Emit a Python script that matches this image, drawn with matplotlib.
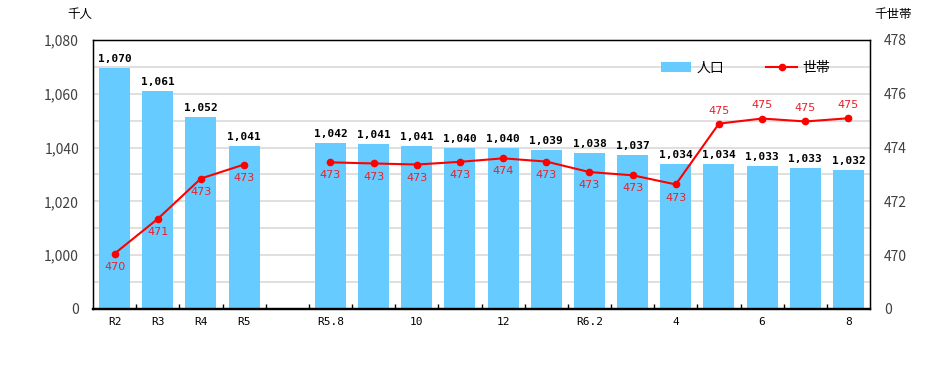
import numpy as np
import matplotlib
matplotlib.use("Agg")
import matplotlib.pyplot as plt
from matplotlib.lines import Line2D
from matplotlib.patches import Patch

plt.rcParams['font.family'] = ['Noto Sans CJK JP', 'DejaVu Sans']

# ------------------------
# data
# ------------------------
categories = ['R2', 'R3', 'R4', 'R5', '', 'R5.8', '9', '10', '11', '12', '1',
              'R6.2', '3', '4', '5', '6', '7', '8']
tick_labels = ['R2', 'R3', 'R4', 'R5', '', 'R5.8', '', '10', '', '12', '',
               'R6.2', '', '4', '', '6', '', '8']
population = [1069.6, 1061.2, 1051.3, 1040.6, np.nan, 1041.8, 1041.2, 1040.6,
              1040.0, 1039.9, 1039.1, 1038.1, 1037.2, 1034.0, 1034.0, 1033.2,
              1032.4, 1031.8]
population_labels = ['1,070', '1,061', '1,052', '1,041', '', '1,042', '1,041',
                     '1,041', '1,040', '1,040', '1,039', '1,038', '1,037',
                     '1,034', '1,034', '1,033', '1,033', '1,032']
households = [470.06, 471.35, 472.85, 473.37, np.nan, 473.45, 473.41, 473.37,
              473.47, 473.6, 473.48, 473.09, 472.97, 472.63, 474.89, 475.08,
              474.97, 475.09]

left_ticks = [980, 1000, 1020, 1040, 1060, 1080]
left_ticklabels = ['0', '1,000', '1,020', '1,040', '1,060', '1,080']
right_ticks = [468, 470, 472, 474, 476, 478]
right_ticklabels = ['0', '470', '472', '474', '476', '478']

bar_color = '#66CCFF'
line_color = '#FF0000'
mono = ['DejaVu Sans Mono']

# ------------------------
# figure
# ------------------------
fig = plt.figure(figsize=(9.32, 3.77), dpi=100)
ax = fig.add_axes([0.0998, 0.1804, 0.8337, 0.7136])
x = np.arange(len(categories))

base = 980
heights = [p - base if not np.isnan(p) else 0 for p in population]
ax.bar(x, heights, bottom=base, width=0.72, color=bar_color, zorder=2)
for xi, p, lab in zip(x, population, population_labels):
    if not np.isnan(p):
        ax.text(xi, p + 1.5, lab, ha='center', va='bottom', fontsize=8,
                fontweight='bold', family=mono, color='black')

ax.set_xlim(-0.5, len(categories) - 0.5)
ax.set_ylim(980, 1080)
ax.set_yticks(left_ticks)
ax.set_yticklabels(left_ticklabels, fontsize=10, color='#404040')
ax.set_yticks(np.arange(990, 1080, 10), minor=True)
ax.grid(axis='y', which='both', color='#d9d9d9', linewidth=1.2, zorder=0)
ax.set_axisbelow(True)
ax.tick_params(axis='y', which='both', length=0, pad=10)

ax.set_xticks(x)
ax.set_xticklabels(tick_labels, fontsize=8, family=mono)
ax.set_xticks(np.arange(0.5, len(categories) - 1, 1), minor=True)
ax.tick_params(axis='x', which='major', length=0, pad=6)
ax.tick_params(axis='x', which='minor', length=3.5, direction='in', width=1)
for s in ['top', 'left', 'right']:
    ax.spines[s].set_linewidth(1.0)
ax.spines['bottom'].set_linewidth(1.6)

ax2 = ax.twinx()
ax2.plot(x, households, color=line_color, marker='o', markersize=4.5,
         linewidth=1.5, zorder=3)
for xi, h in zip(x, households):
    if np.isnan(h):
        continue
    if h > 474.5:
        ax2.text(xi, h + 0.3, f"{h:.0f}", ha='center', va='bottom',
                 fontsize=8, color='#E8202A', family=['DejaVu Sans'])
    else:
        ax2.text(xi, h - 0.3, f"{h:.0f}", ha='center', va='top',
                 fontsize=8, color='#E8202A', family=['DejaVu Sans'])
ax2.set_ylim(468, 478)
ax2.set_yticks(right_ticks)
ax2.set_yticklabels(right_ticklabels, fontsize=10, color='#404040')
ax2.tick_params(axis='y', length=0, pad=10)
ax2.spines['bottom'].set_linewidth(1.6)

fig.text(0.086, 0.962, '千人', ha='center', va='center', fontsize=9)
fig.text(0.958, 0.962, '千世帯', ha='center', va='center', fontsize=9)

handles = [Patch(facecolor=bar_color, edgecolor='none'),
           Line2D([], [], color=line_color, marker='o', markersize=4.5,
                  linewidth=1.5)]
ax2.legend(handles, ['人口', '世帯'], loc='upper right', ncol=2,
           frameon=False, fontsize=10, bbox_to_anchor=(0.965, 0.97),
           columnspacing=3.0, handlelength=2.2, handletextpad=0.4)

fig.savefig('out.png', dpi=100)
